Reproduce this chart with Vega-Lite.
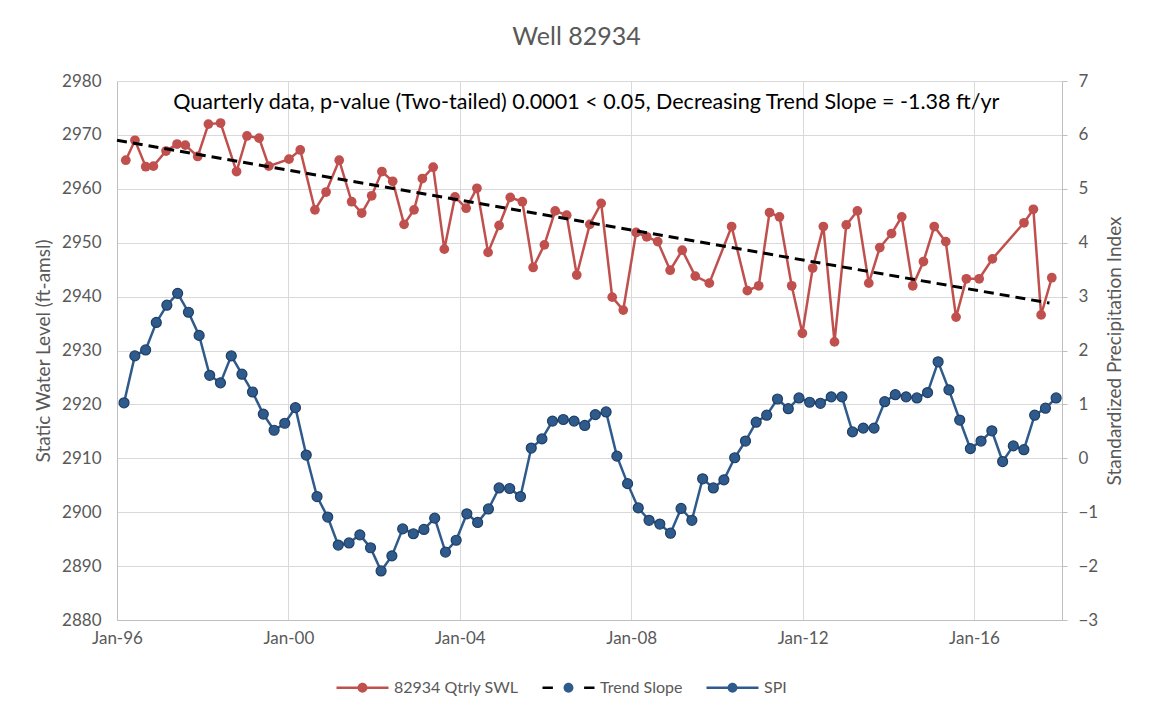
{
  "$schema": "https://vega.github.io/schema/vega-lite/v6.json",
  "width": 945,
  "height": 539,
  "autosize": {"type": "none"},
  "padding": {"left": 117, "top": 81, "right": 88, "bottom": 99},
  "background": "white",
  "title": {"text": "Well 82934", "fontSize": 25, "font": "Lato", "fontWeight": "normal", "color": "#595959", "anchor": "middle", "offset": 22, "dx": -13},
  "datasets": {
    "swl": [
      {"date": "1996-03-16", "value": 2965.3, "series": "82934 Qtrly SWL"},
      {"date": "1996-06-02", "value": 2969.0, "series": "82934 Qtrly SWL"},
      {"date": "1996-09-02", "value": 2964.1, "series": "82934 Qtrly SWL"},
      {"date": "1996-11-06", "value": 2964.2, "series": "82934 Qtrly SWL"},
      {"date": "1997-02-22", "value": 2967.0, "series": "82934 Qtrly SWL"},
      {"date": "1997-05-27", "value": 2968.3, "series": "82934 Qtrly SWL"},
      {"date": "1997-08-05", "value": 2968.1, "series": "82934 Qtrly SWL"},
      {"date": "1997-11-19", "value": 2966.0, "series": "82934 Qtrly SWL"},
      {"date": "1998-02-18", "value": 2972.0, "series": "82934 Qtrly SWL"},
      {"date": "1998-06-02", "value": 2972.2, "series": "82934 Qtrly SWL"},
      {"date": "1998-10-16", "value": 2963.2, "series": "82934 Qtrly SWL"},
      {"date": "1999-01-13", "value": 2969.8, "series": "82934 Qtrly SWL"},
      {"date": "1999-04-26", "value": 2969.4, "series": "82934 Qtrly SWL"},
      {"date": "1999-07-18", "value": 2964.2, "series": "82934 Qtrly SWL"},
      {"date": "2000-01-06", "value": 2965.5, "series": "82934 Qtrly SWL"},
      {"date": "2000-04-11", "value": 2967.2, "series": "82934 Qtrly SWL"},
      {"date": "2000-08-14", "value": 2956.1, "series": "82934 Qtrly SWL"},
      {"date": "2000-11-17", "value": 2959.4, "series": "82934 Qtrly SWL"},
      {"date": "2001-03-09", "value": 2965.3, "series": "82934 Qtrly SWL"},
      {"date": "2001-06-23", "value": 2957.6, "series": "82934 Qtrly SWL"},
      {"date": "2001-09-17", "value": 2955.5, "series": "82934 Qtrly SWL"},
      {"date": "2001-12-11", "value": 2958.7, "series": "82934 Qtrly SWL"},
      {"date": "2002-03-08", "value": 2963.2, "series": "82934 Qtrly SWL"},
      {"date": "2002-06-08", "value": 2961.4, "series": "82934 Qtrly SWL"},
      {"date": "2002-09-13", "value": 2953.4, "series": "82934 Qtrly SWL"},
      {"date": "2002-12-07", "value": 2956.1, "series": "82934 Qtrly SWL"},
      {"date": "2003-02-16", "value": 2961.9, "series": "82934 Qtrly SWL"},
      {"date": "2003-05-19", "value": 2964.0, "series": "82934 Qtrly SWL"},
      {"date": "2003-08-22", "value": 2948.8, "series": "82934 Qtrly SWL"},
      {"date": "2003-11-21", "value": 2958.5, "series": "82934 Qtrly SWL"},
      {"date": "2004-02-24", "value": 2956.4, "series": "82934 Qtrly SWL"},
      {"date": "2004-05-26", "value": 2960.1, "series": "82934 Qtrly SWL"},
      {"date": "2004-08-29", "value": 2948.2, "series": "82934 Qtrly SWL"},
      {"date": "2004-12-01", "value": 2953.2, "series": "82934 Qtrly SWL"},
      {"date": "2005-03-06", "value": 2958.4, "series": "82934 Qtrly SWL"},
      {"date": "2005-06-17", "value": 2957.6, "series": "82934 Qtrly SWL"},
      {"date": "2005-09-17", "value": 2945.4, "series": "82934 Qtrly SWL"},
      {"date": "2005-12-22", "value": 2949.6, "series": "82934 Qtrly SWL"},
      {"date": "2006-03-24", "value": 2955.9, "series": "82934 Qtrly SWL"},
      {"date": "2006-06-30", "value": 2955.1, "series": "82934 Qtrly SWL"},
      {"date": "2006-09-24", "value": 2944.0, "series": "82934 Qtrly SWL"},
      {"date": "2007-01-13", "value": 2953.4, "series": "82934 Qtrly SWL"},
      {"date": "2007-04-20", "value": 2957.3, "series": "82934 Qtrly SWL"},
      {"date": "2007-07-23", "value": 2939.9, "series": "82934 Qtrly SWL"},
      {"date": "2007-10-25", "value": 2937.5, "series": "82934 Qtrly SWL"},
      {"date": "2008-02-12", "value": 2951.9, "series": "82934 Qtrly SWL"},
      {"date": "2008-05-12", "value": 2951.1, "series": "82934 Qtrly SWL"},
      {"date": "2008-08-14", "value": 2950.2, "series": "82934 Qtrly SWL"},
      {"date": "2008-11-28", "value": 2944.9, "series": "82934 Qtrly SWL"},
      {"date": "2009-03-11", "value": 2948.6, "series": "82934 Qtrly SWL"},
      {"date": "2009-06-30", "value": 2943.8, "series": "82934 Qtrly SWL"},
      {"date": "2009-10-28", "value": 2942.5, "series": "82934 Qtrly SWL"},
      {"date": "2010-05-06", "value": 2953.0, "series": "82934 Qtrly SWL"},
      {"date": "2010-09-17", "value": 2941.1, "series": "82934 Qtrly SWL"},
      {"date": "2010-12-23", "value": 2942.0, "series": "82934 Qtrly SWL"},
      {"date": "2011-03-25", "value": 2955.6, "series": "82934 Qtrly SWL"},
      {"date": "2011-06-18", "value": 2954.8, "series": "82934 Qtrly SWL"},
      {"date": "2011-09-30", "value": 2942.0, "series": "82934 Qtrly SWL"},
      {"date": "2011-12-30", "value": 2933.2, "series": "82934 Qtrly SWL"},
      {"date": "2012-03-27", "value": 2945.3, "series": "82934 Qtrly SWL"},
      {"date": "2012-06-26", "value": 2953.0, "series": "82934 Qtrly SWL"},
      {"date": "2012-09-29", "value": 2931.6, "series": "82934 Qtrly SWL"},
      {"date": "2013-01-07", "value": 2953.3, "series": "82934 Qtrly SWL"},
      {"date": "2013-04-12", "value": 2955.9, "series": "82934 Qtrly SWL"},
      {"date": "2013-07-18", "value": 2942.5, "series": "82934 Qtrly SWL"},
      {"date": "2013-10-20", "value": 2949.1, "series": "82934 Qtrly SWL"},
      {"date": "2014-01-28", "value": 2951.7, "series": "82934 Qtrly SWL"},
      {"date": "2014-04-25", "value": 2954.8, "series": "82934 Qtrly SWL"},
      {"date": "2014-07-28", "value": 2942.0, "series": "82934 Qtrly SWL"},
      {"date": "2014-10-27", "value": 2946.5, "series": "82934 Qtrly SWL"},
      {"date": "2015-01-27", "value": 2953.0, "series": "82934 Qtrly SWL"},
      {"date": "2015-05-05", "value": 2950.2, "series": "82934 Qtrly SWL"},
      {"date": "2015-08-01", "value": 2936.2, "series": "82934 Qtrly SWL"},
      {"date": "2015-10-28", "value": 2943.3, "series": "82934 Qtrly SWL"},
      {"date": "2016-02-14", "value": 2943.3, "series": "82934 Qtrly SWL"},
      {"date": "2016-06-06", "value": 2947.0, "series": "82934 Qtrly SWL"},
      {"date": "2017-03-02", "value": 2953.7, "series": "82934 Qtrly SWL"},
      {"date": "2017-05-21", "value": 2956.2, "series": "82934 Qtrly SWL"},
      {"date": "2017-07-26", "value": 2936.6, "series": "82934 Qtrly SWL"},
      {"date": "2017-10-25", "value": 2943.5, "series": "82934 Qtrly SWL"}
    ],
    "trend": [
      {"date": "1996-01-01", "value": 2969.0, "series": "Trend Slope"},
      {"date": "2017-10-05", "value": 2938.8, "series": "Trend Slope"}
    ],
    "note": [
      {"date": "2006-12-14", "value": 2975.9, "label": "Quarterly data, p-value (Two-tailed) 0.0001 < 0.05, Decreasing Trend Slope = -1.38 ft/yr"}
    ],
    "spi": [
      {"date": "1996-03-01", "value": 1.03, "series": "SPI"},
      {"date": "1996-06-01", "value": 1.90, "series": "SPI"},
      {"date": "1996-09-01", "value": 2.01, "series": "SPI"},
      {"date": "1996-12-01", "value": 2.52, "series": "SPI"},
      {"date": "1997-03-01", "value": 2.84, "series": "SPI"},
      {"date": "1997-06-01", "value": 3.06, "series": "SPI"},
      {"date": "1997-09-01", "value": 2.71, "series": "SPI"},
      {"date": "1997-12-01", "value": 2.28, "series": "SPI"},
      {"date": "1998-03-01", "value": 1.54, "series": "SPI"},
      {"date": "1998-06-01", "value": 1.40, "series": "SPI"},
      {"date": "1998-09-01", "value": 1.90, "series": "SPI"},
      {"date": "1998-12-01", "value": 1.56, "series": "SPI"},
      {"date": "1999-03-01", "value": 1.23, "series": "SPI"},
      {"date": "1999-06-01", "value": 0.82, "series": "SPI"},
      {"date": "1999-09-01", "value": 0.52, "series": "SPI"},
      {"date": "1999-12-01", "value": 0.65, "series": "SPI"},
      {"date": "2000-03-01", "value": 0.94, "series": "SPI"},
      {"date": "2000-06-01", "value": 0.06, "series": "SPI"},
      {"date": "2000-09-01", "value": -0.71, "series": "SPI"},
      {"date": "2000-12-01", "value": -1.09, "series": "SPI"},
      {"date": "2001-03-01", "value": -1.61, "series": "SPI"},
      {"date": "2001-06-01", "value": -1.57, "series": "SPI"},
      {"date": "2001-09-01", "value": -1.42, "series": "SPI"},
      {"date": "2001-12-01", "value": -1.66, "series": "SPI"},
      {"date": "2002-03-01", "value": -2.09, "series": "SPI"},
      {"date": "2002-06-01", "value": -1.81, "series": "SPI"},
      {"date": "2002-09-01", "value": -1.31, "series": "SPI"},
      {"date": "2002-12-01", "value": -1.40, "series": "SPI"},
      {"date": "2003-03-01", "value": -1.32, "series": "SPI"},
      {"date": "2003-06-01", "value": -1.11, "series": "SPI"},
      {"date": "2003-09-01", "value": -1.74, "series": "SPI"},
      {"date": "2003-12-01", "value": -1.52, "series": "SPI"},
      {"date": "2004-03-01", "value": -1.03, "series": "SPI"},
      {"date": "2004-06-01", "value": -1.19, "series": "SPI"},
      {"date": "2004-09-01", "value": -0.94, "series": "SPI"},
      {"date": "2004-12-01", "value": -0.55, "series": "SPI"},
      {"date": "2005-03-01", "value": -0.56, "series": "SPI"},
      {"date": "2005-06-01", "value": -0.71, "series": "SPI"},
      {"date": "2005-09-01", "value": 0.19, "series": "SPI"},
      {"date": "2005-12-01", "value": 0.36, "series": "SPI"},
      {"date": "2006-03-01", "value": 0.69, "series": "SPI"},
      {"date": "2006-06-01", "value": 0.72, "series": "SPI"},
      {"date": "2006-09-01", "value": 0.69, "series": "SPI"},
      {"date": "2006-12-01", "value": 0.61, "series": "SPI"},
      {"date": "2007-03-01", "value": 0.81, "series": "SPI"},
      {"date": "2007-06-01", "value": 0.86, "series": "SPI"},
      {"date": "2007-09-01", "value": 0.04, "series": "SPI"},
      {"date": "2007-12-01", "value": -0.47, "series": "SPI"},
      {"date": "2008-03-01", "value": -0.92, "series": "SPI"},
      {"date": "2008-06-01", "value": -1.15, "series": "SPI"},
      {"date": "2008-09-01", "value": -1.22, "series": "SPI"},
      {"date": "2008-12-01", "value": -1.39, "series": "SPI"},
      {"date": "2009-03-01", "value": -0.93, "series": "SPI"},
      {"date": "2009-06-01", "value": -1.15, "series": "SPI"},
      {"date": "2009-09-01", "value": -0.38, "series": "SPI"},
      {"date": "2009-12-01", "value": -0.55, "series": "SPI"},
      {"date": "2010-03-01", "value": -0.40, "series": "SPI"},
      {"date": "2010-06-01", "value": 0.01, "series": "SPI"},
      {"date": "2010-09-01", "value": 0.32, "series": "SPI"},
      {"date": "2010-12-01", "value": 0.67, "series": "SPI"},
      {"date": "2011-03-01", "value": 0.80, "series": "SPI"},
      {"date": "2011-06-01", "value": 1.10, "series": "SPI"},
      {"date": "2011-09-01", "value": 0.92, "series": "SPI"},
      {"date": "2011-12-01", "value": 1.12, "series": "SPI"},
      {"date": "2012-03-01", "value": 1.04, "series": "SPI"},
      {"date": "2012-06-01", "value": 1.02, "series": "SPI"},
      {"date": "2012-09-01", "value": 1.14, "series": "SPI"},
      {"date": "2012-12-01", "value": 1.14, "series": "SPI"},
      {"date": "2013-03-01", "value": 0.49, "series": "SPI"},
      {"date": "2013-06-01", "value": 0.56, "series": "SPI"},
      {"date": "2013-09-01", "value": 0.56, "series": "SPI"},
      {"date": "2013-12-01", "value": 1.05, "series": "SPI"},
      {"date": "2014-03-01", "value": 1.18, "series": "SPI"},
      {"date": "2014-06-01", "value": 1.14, "series": "SPI"},
      {"date": "2014-09-01", "value": 1.12, "series": "SPI"},
      {"date": "2014-12-01", "value": 1.22, "series": "SPI"},
      {"date": "2015-03-01", "value": 1.79, "series": "SPI"},
      {"date": "2015-06-01", "value": 1.27, "series": "SPI"},
      {"date": "2015-09-01", "value": 0.71, "series": "SPI"},
      {"date": "2015-12-01", "value": 0.18, "series": "SPI"},
      {"date": "2016-03-01", "value": 0.32, "series": "SPI"},
      {"date": "2016-06-01", "value": 0.51, "series": "SPI"},
      {"date": "2016-09-01", "value": -0.06, "series": "SPI"},
      {"date": "2016-12-01", "value": 0.23, "series": "SPI"},
      {"date": "2017-03-01", "value": 0.16, "series": "SPI"},
      {"date": "2017-06-01", "value": 0.80, "series": "SPI"},
      {"date": "2017-09-01", "value": 0.93, "series": "SPI"},
      {"date": "2017-12-01", "value": 1.12, "series": "SPI"}
    ]
  },
  "encoding": {
    "x": {
      "field": "date",
      "type": "temporal",
      "scale": {"domain": [{"year": 1996, "month": 1, "date": 1}, {"year": 2018, "month": 1, "date": 20}]},
      "axis": {
        "title": null,
        "values": [
          {"year": 1996, "month": 1, "date": 1},
          {"year": 2000, "month": 1, "date": 1},
          {"year": 2004, "month": 1, "date": 1},
          {"year": 2008, "month": 1, "date": 1},
          {"year": 2012, "month": 1, "date": 1},
          {"year": 2016, "month": 1, "date": 1}
        ],
        "format": "%b-%y",
        "grid": true,
        "ticks": false,
        "labelFlush": false,
        "labelPadding": 10,
        "labelFontSize": 17
      }
    }
  },
  "layer": [
    {
      "encoding": {
        "y": {
          "field": "value",
          "type": "quantitative",
          "scale": {"domain": [2880, 2980], "nice": false, "zero": false},
          "axis": {
            "title": "Static Water Level (ft-amsl)",
            "orient": "left",
            "values": [2880, 2890, 2900, 2910, 2920, 2930, 2940, 2950, 2960, 2970, 2980],
            "format": "d",
            "grid": true,
            "ticks": false,
            "labelPadding": 16,
            "titlePadding": 8
          }
        }
      },
      "layer": [
        {
          "data": {"name": "swl"},
          "mark": {"type": "line", "strokeWidth": 2.5},
          "encoding": {
            "color": {
              "field": "series",
              "type": "nominal",
              "scale": {"domain": ["82934 Qtrly SWL", "Trend Slope", "SPI"], "range": ["#c0504d", "#000000", "#2f5b8c"]},
              "legend": {
                "title": null,
                "orient": "none",
                "legendX": 218,
                "legendY": 579,
                "direction": "horizontal",
                "symbolSize": 2704,
                "symbolStrokeWidth": 2.5,
                "labelFont": "Lato",
                "labelFontSize": 16,
                "labelColor": "#595959",
                "labelOffset": 4,
                "columnPadding": 18,
                "encode": {
                  "symbols": {
                    "update": {
                      "shape": {"signal": "datum.value === 'Trend Slope' ? 'M-1,0L-0.6,0M0.6,0L1,0' : 'M-1,0L1,0'"},
                      "fill": {"value": "transparent"},
                      "stroke": {"signal": "datum.value === '82934 Qtrly SWL' ? '#c0504d' : (datum.value === 'Trend Slope' ? '#000000' : '#2f5b8c')"},
                      "opacity": {"value": 1},
                      "strokeWidth": {"value": 2.5}
                    }
                  }
                }
              }
            }
          }
        },
        {
          "data": {"name": "swl"},
          "mark": {"type": "point", "filled": true, "size": 95, "opacity": 1},
          "encoding": {
            "fill": {
              "field": "series",
              "type": "nominal",
              "scale": {"domain": ["82934 Qtrly SWL", "Trend Slope", "SPI", "_"], "range": ["#c0504d", "#2f5b8c", "#2f5b8c", "#2f5b8c"]},
              "legend": {
                "title": null,
                "values": ["82934 Qtrly SWL", "Trend Slope", "SPI"],
                "orient": "none",
                "legendX": 218,
                "legendY": 579,
                "direction": "horizontal",
                "symbolType": "M-1,0L1,0M-0.19,0A0.19,0.19,0,1,0,0.19,0A0.19,0.19,0,1,0,-0.19,0Z",
                "symbolSize": 2704,
                "symbolStrokeWidth": 2.5,
                "symbolStrokeColor": "rgba(0,0,0,0)",
                "symbolOpacity": 1,
                "labelFont": "Lato",
                "labelFontSize": 16,
                "labelColor": "#595959",
                "labelOpacity": 0,
                "labelOffset": 4,
                "columnPadding": 18
              }
            }
          }
        },
        {
          "data": {"name": "trend"},
          "mark": {"type": "line", "strokeWidth": 3, "strokeDash": [10, 6]},
          "encoding": {"color": {"field": "series", "type": "nominal"}}
        },
        {
          "data": {"name": "note"},
          "mark": {"type": "text", "font": "Lato", "fontSize": 21.5, "color": "#000000", "align": "center", "baseline": "middle"},
          "encoding": {"text": {"field": "label"}}
        }
      ]
    },
    {
      "encoding": {
        "y": {
          "field": "value",
          "type": "quantitative",
          "scale": {"domain": [-3, 7], "nice": false, "zero": false},
          "axis": {
            "title": "Standardized Precipitation Index",
            "orient": "right",
            "values": [-3, -2, -1, 0, 1, 2, 3, 4, 5, 6, 7],
            "grid": false,
            "ticks": true,
            "tickSize": 5,
            "labelPadding": 11,
            "titlePadding": 27,
            "titleAngle": 270
          }
        }
      },
      "layer": [
        {
          "data": {"name": "spi"},
          "mark": {"type": "line", "strokeWidth": 2.5},
          "encoding": {"color": {"field": "series", "type": "nominal"}}
        },
        {
          "data": {"name": "spi"},
          "mark": {"type": "point", "filled": true, "size": 100, "opacity": 1, "fill": "#2f5b8c", "stroke": "#1f3f66", "strokeWidth": 1.2},
          "encoding": {}
        }
      ]
    }
  ],
  "resolve": {"scale": {"y": "independent"}},
  "config": {
    "font": "Lato",
    "view": {"stroke": null},
    "axis": {
      "labelFont": "Lato",
      "titleFont": "Lato",
      "labelColor": "#595959",
      "titleColor": "#595959",
      "labelFontSize": 17,
      "titleFontSize": 19,
      "titleFontWeight": "normal",
      "domainColor": "#bfbfbf",
      "domainWidth": 1,
      "tickColor": "#bfbfbf",
      "gridColor": "#d9d9d9",
      "gridWidth": 1
    }
  }
}
